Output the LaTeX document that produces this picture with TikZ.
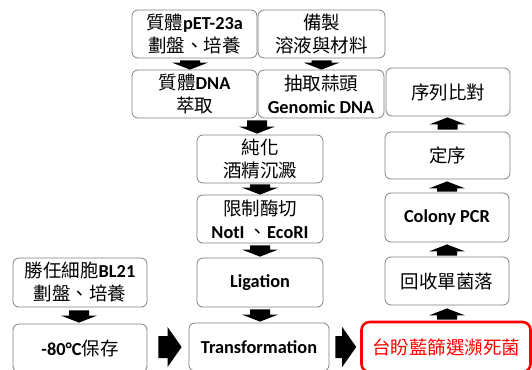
\documentclass[tikz,border=0pt]{standalone}
\usepackage{fontspec}
\setmainfont{Carlito}
\newfontfamily\cjk{Noto Sans CJK TC}
\usetikzlibrary{calc}
\newcommand\Z[1]{{\cjk\fontsize{18.5}{23}\selectfont #1}}
\newcommand\E[1]{{\bfseries\fontsize{18.3}{23}\selectfont #1}}
\def\sw{10pt}\def\hw{18pt}\def\hl{7pt}
\def\hsw{11pt}\def\hhw{20pt}\def\hhl{14pt}
\newcommand\downblk[2]{\fill[arr] let \p1=#1, \p2=#2 in
  (\x1-\sw,\y1) -- (\x1+\sw,\y1) -- (\x1+\sw,\y2+\hl) -- (\x1+\hw,\y2+\hl) --
  (\x1,\y2) -- (\x1-\hw,\y2+\hl) -- (\x1-\sw,\y2+\hl) -- cycle;}
\newcommand\upblk[2]{\fill[arr] let \p1=#1, \p2=#2 in
  (\x1-\sw,\y1) -- (\x1+\sw,\y1) -- (\x1+\sw,\y2-\hl) -- (\x1+\hw,\y2-\hl) --
  (\x1,\y2) -- (\x1-\hw,\y2-\hl) -- (\x1-\sw,\y2-\hl) -- cycle;}
\newcommand\rightblk[2]{\fill[arr] let \p1=#1, \p2=#2 in
  (\x1,\y1-\hsw) -- (\x2-\hhl,\y1-\hsw) -- (\x2-\hhl,\y1-\hhw) -- (\x2,\y1) --
  (\x2-\hhl,\y1+\hhw) -- (\x2-\hhl,\y1+\hsw) -- (\x1,\y1+\hsw) -- cycle;}
\begin{document}
\begin{tikzpicture}[x=1pt,y=-1pt,
  box/.style={draw=black!50, line width=0.8pt, rounded corners=6pt, inner sep=0pt,
    align=center, font=\fontsize{18}{23}\selectfont},
  redbox/.style={box, draw=red, line width=2.6pt, rounded corners=8pt, text=red},
  arr/.style={fill=black}]
\useasboundingbox (0,0) rectangle (532,369);
\node[box, minimum width=125pt, minimum height=48pt] (A) at (194.5,34) {\Z{質體}\E{pET-23a}\\\Z{劃盤、培養}};
\node[box, minimum width=127pt, minimum height=48pt] (B) at (321.5,34) {\Z{備製}\\\Z{溶液與材料}};
\node[box, minimum width=125pt, minimum height=48pt] (C) at (194.5,94) {\Z{質體}\E{DNA}\\\Z{萃取}};
\node[box, minimum width=126pt, minimum height=48pt] (D) at (321,94) {\Z{抽取蒜頭}\\\E{Genomic DNA}};
\node[box, minimum width=124pt, minimum height=48pt] (E) at (448,92) {\Z{序列比對}};
\node[box, minimum width=126pt, minimum height=48pt] (F) at (260,159) {\Z{純化}\\\Z{酒精沉澱}};
\node[box, minimum width=126pt, minimum height=48pt] (G) at (260,219) {\Z{限制酶切}\\\E{NotI }\Z{、}\E{EcoRI}};
\node[box, minimum width=126pt, minimum height=49pt] (H) at (260,282.5) {\E{Ligation}};
\node[box, minimum width=140pt, minimum height=48pt] (I) at (259,347) {\E{Transformation}};
\node[box, minimum width=134pt, minimum height=49pt] (J) at (80,282.5) {\Z{勝任細胞}\E{BL21}\\\Z{劃盤、培養}};
\node[box, minimum width=134pt, minimum height=48pt] (K) at (80,348) {\E{-80°C}\Z{保存}};
\node[redbox, minimum width=169pt, minimum height=50pt] (L) at (446,347) {\Z{台盼藍篩選瀕死菌}};
\node[box, minimum width=124pt, minimum height=48pt] (M) at (447,281) {\Z{回收單菌落}};
\node[box, minimum width=124pt, minimum height=49pt] (N) at (447,217.5) {\E{Colony PCR}};
\node[box, minimum width=125pt, minimum height=47pt] (O) at (447.5,155.5) {\Z{定序}};
% down arrows
\downblk{($(A.south)+(-4.5,2)$)}{($(C.north)+(-4.5,0)$)}
\downblk{($(B.south)+(0,2)$)}{(D.north)}
\downblk{($(C.south -| F.north)+(-3,2)$)}{($(F.north)+(-3,-1)$)}
\downblk{($(F.south)+(0,1)$)}{($(G.north)+(0,0)$)}
\downblk{($(G.south)+(0,2)$)}{($(H.north)+(0,-1)$)}
\downblk{($(H.south)+(0,2)$)}{($(I.north)+(1,-1)$)}
\downblk{($(J.south)+(-1,3)$)}{($(K.north)+(-1,-1)$)}
% up arrows
\upblk{($(L.north -| M.south)+(0,-1)$)}{($(M.south)+(0,3)$)}
\upblk{($(M.north)+(0,-1)$)}{($(N.south)+(0,2)$)}
\upblk{($(N.north)+(0,-1)$)}{($(O.south)+(0,2)$)}
\upblk{($(O.north)+(0,-2)$)}{($(E.south)+(-1,1)$)}
% right arrows
\rightblk{($(K.east)+(11,-1)$)}{($(I.west)+(-7,-1)$)}
\rightblk{($(I.east)+(6,0)$)}{($(L.west)+(-4,0)$)}
\end{tikzpicture}
\end{document}
